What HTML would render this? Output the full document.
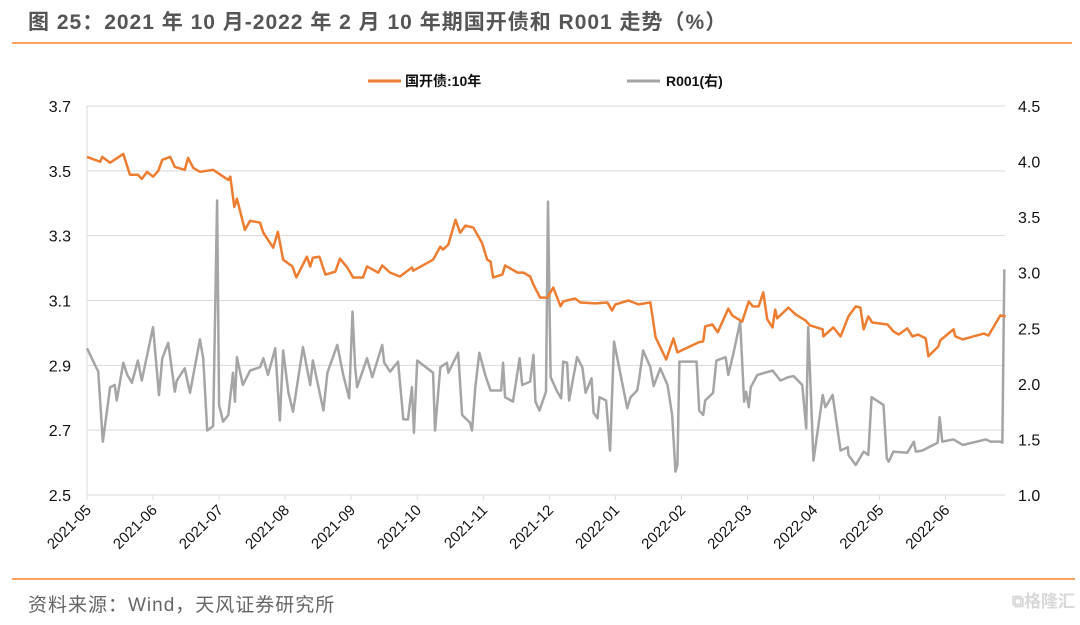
<!DOCTYPE html>
<html><head><meta charset="utf-8"><style>
body{margin:0;background:#fff;width:1080px;height:620px;overflow:hidden;font-family:"Liberation Sans","Noto Sans CJK SC",sans-serif;}
</style></head><body>
<svg id="chart" width="1080" height="620" xmlns="http://www.w3.org/2000/svg">
<text x="28" y="29" font-size="21" letter-spacing="1" font-weight="bold" fill="#555" font-family="Liberation Sans, Noto Sans CJK SC, sans-serif">图 25：2021 年 10 月-2022 年 2 月 10 年期国开债和 R001 走势（%）</text>
<line x1="12" y1="43" x2="1072" y2="43" stroke="#f5a35e" stroke-width="2"/>
<line x1="12" y1="579" x2="1075" y2="579" stroke="#f5a35e" stroke-width="2"/>
<text x="28" y="611" font-size="19" letter-spacing="1" fill="#666" font-family="Liberation Sans, Noto Sans CJK SC, sans-serif">资料来源：Wind，天风证券研究所</text>
<text x="1075" y="607" font-size="17" fill="#d8d8d8" text-anchor="end" font-weight="bold" font-family="Liberation Sans, Noto Sans CJK SC, sans-serif">⧉格隆汇</text>
<g>
<line x1="368" y1="81" x2="401" y2="81" stroke="#ed7d31" stroke-width="3"/>
<text x="405" y="86" font-size="14" font-weight="bold" fill="#111" font-family="Liberation Sans, Noto Sans CJK SC, sans-serif">国开债:10年</text>
<line x1="627" y1="81" x2="660" y2="81" stroke="#a5a5a5" stroke-width="3"/>
<text x="666" y="86" font-size="14" font-weight="bold" fill="#111" font-family="Liberation Sans, Noto Sans CJK SC, sans-serif">R001(右)</text>
</g>
<g id="plot"></g>
</svg>
<script>
const monthLabels=["2021-05","2021-06","2021-07","2021-08","2021-09","2021-10","2021-11","2021-12","2022-01","2022-02","2022-03","2022-04","2022-05","2022-06"];
const leftTicks=[2.5,2.7,2.9,3.1,3.3,3.5,3.7];
const rightTicks=[1.0,1.5,2.0,2.5,3.0,3.5,4.0,4.5];
const cdbT=[0,.20,.23,.35,.55,.65,.77,.83,.91,1.0,1.08,1.14,1.26,1.33,1.48,1.53,1.61,1.71,1.91,2.02,2.14,2.17,2.23,2.27,2.39,2.47,2.62,2.67,2.82,2.89,2.97,3.11,3.17,3.33,3.38,3.42,3.52,3.61,3.76,3.83,3.94,4.03,4.18,4.24,4.33,4.41,4.47,4.59,4.74,4.92,4.94,5.24,5.35,5.39,5.47,5.58,5.65,5.73,5.85,5.98,6.06,6.11,6.15,6.29,6.33,6.52,6.61,6.71,6.76,6.86,6.97,7.06,7.17,7.21,7.39,7.47,7.70,7.88,7.95,8.0,8.20,8.35,8.53,8.61,8.77,8.88,8.94,9.26,9.33,9.36,9.47,9.55,9.71,9.77,9.92,10.02,10.08,10.17,10.24,10.30,10.38,10.42,10.45,10.62,10.73,10.88,10.95,11.14,11.15,11.30,11.41,11.53,11.64,11.71,11.76,11.83,11.89,12.12,12.21,12.29,12.42,12.50,12.58,12.70,12.74,12.89,12.92,13.12,13.15,13.26,13.42,13.58,13.65,13.83,13.91];
const cdbV=[3.543,3.528,3.543,3.525,3.552,3.488,3.488,3.475,3.497,3.482,3.500,3.534,3.543,3.512,3.503,3.540,3.509,3.497,3.503,3.488,3.472,3.482,3.389,3.414,3.318,3.346,3.340,3.309,3.263,3.312,3.226,3.205,3.171,3.235,3.205,3.232,3.235,3.180,3.189,3.229,3.202,3.171,3.171,3.205,3.195,3.186,3.208,3.186,3.174,3.202,3.192,3.226,3.266,3.257,3.272,3.349,3.309,3.331,3.325,3.278,3.226,3.220,3.171,3.180,3.208,3.186,3.186,3.174,3.149,3.109,3.109,3.140,3.082,3.097,3.106,3.094,3.091,3.094,3.069,3.088,3.100,3.088,3.094,2.986,2.918,2.983,2.940,2.971,2.974,3.020,3.026,3.002,3.075,3.054,3.035,3.097,3.082,3.082,3.125,3.042,3.017,3.072,3.045,3.078,3.057,3.038,3.023,3.011,2.989,3.017,2.989,3.051,3.082,3.078,3.011,3.051,3.032,3.026,3.005,2.995,3.014,2.989,2.995,2.983,2.928,2.958,2.977,3.011,2.989,2.980,2.989,2.998,2.992,3.054,3.051];
const r001T=[0,.17,.24,.35,.42,.45,.55,.61,.68,.77,.83,1.0,1.09,1.14,1.23,1.33,1.36,1.48,1.56,1.71,1.76,1.82,1.91,1.97,2.0,2.06,2.14,2.21,2.24,2.27,2.36,2.47,2.62,2.67,2.74,2.85,2.92,2.97,3.05,3.12,3.27,3.38,3.42,3.58,3.64,3.79,3.88,3.97,4.02,4.06,4.09,4.24,4.32,4.47,4.5,4.59,4.71,4.79,4.86,4.92,4.95,5.0,5.24,5.27,5.35,5.45,5.47,5.62,5.68,5.8,5.83,5.88,5.94,6.03,6.11,6.27,6.3,6.33,6.45,6.55,6.59,6.71,6.76,6.79,6.85,6.95,6.98,7.02,7.12,7.18,7.21,7.27,7.3,7.42,7.5,7.55,7.64,7.67,7.73,7.76,7.86,7.92,7.98,8.18,8.23,8.33,8.36,8.42,8.53,8.58,8.68,8.79,8.86,8.91,8.94,8.97,9.23,9.27,9.33,9.36,9.48,9.53,9.67,9.71,9.79,9.89,9.95,9.98,10.02,10.05,10.15,10.38,10.5,10.62,10.7,10.83,10.89,10.92,11.0,11.14,11.18,11.29,11.41,11.52,11.53,11.64,11.76,11.83,11.88,12.06,12.11,12.14,12.21,12.42,12.52,12.55,12.65,12.88,12.91,12.95,13.12,13.26,13.61,13.68,13.83,13.86,13.89];
const r001V=[2.32,2.11,1.48,1.97,1.99,1.85,2.19,2.08,2.01,2.21,2.03,2.51,1.90,2.23,2.37,1.93,2.03,2.14,1.92,2.40,2.23,1.58,1.62,3.65,1.81,1.66,1.72,2.10,1.84,2.24,1.99,2.12,2.15,2.23,2.08,2.32,1.67,2.30,1.92,1.75,2.33,1.99,2.21,1.76,2.10,2.35,2.08,1.87,2.65,2.15,1.97,2.23,2.06,2.35,2.19,2.11,2.20,1.68,1.68,1.97,1.56,2.21,2.10,1.58,2.15,2.19,2.10,2.28,1.72,1.65,1.58,1.97,2.28,2.08,1.94,1.94,2.19,1.88,1.84,2.23,1.99,2.02,2.26,1.84,1.76,1.93,3.64,2.06,1.93,1.87,2.20,2.19,1.85,2.24,2.15,1.92,2.05,1.74,1.69,1.88,1.85,1.40,2.38,1.78,1.88,1.94,2.04,2.30,2.15,1.98,2.14,1.99,1.72,1.21,1.27,2.20,2.20,1.76,1.72,1.85,1.92,2.21,2.24,2.08,2.28,2.56,1.84,1.93,1.79,1.97,2.08,2.12,2.03,2.06,2.07,1.99,1.60,2.51,1.31,1.90,1.79,1.90,1.40,1.43,1.36,1.27,1.39,1.36,1.88,1.81,1.33,1.30,1.39,1.38,1.48,1.39,1.40,1.47,1.70,1.48,1.50,1.45,1.50,1.48,1.48,1.47,3.03];

const NS='http://www.w3.org/2000/svg';
const X0=87,X1=1005,T1=13.9,Y0=495,Y1=106;
const xs=t=>X0+(X1-X0)*t/T1;
const yl=v=>Y0-(v-2.5)/(3.7-2.5)*(Y0-Y1);
const yr=v=>Y0-(v-1.0)/(4.5-1.0)*(Y0-Y1);
const plot=document.getElementById('plot');
function mk(tag,attrs){const e=document.createElementNS(NS,tag);for(const k in attrs)e.setAttribute(k,attrs[k]);plot.appendChild(e);return e;}
leftTicks.forEach(v=>{
  const g=mk('line',{x1:X0,x2:X1,y1:yl(v),y2:yl(v),stroke:'#d9d9d9','stroke-width':1});
  
  
  const t=mk('text',{x:71,y:yl(v)+6,'text-anchor':'end','font-size':16,fill:'#111'});
  t.textContent=v.toFixed(1);
  
  
});
rightTicks.forEach(v=>{
  const t=mk('text',{x:1018,y:yr(v)+6,'font-size':16,fill:'#111'});
  t.textContent=v.toFixed(1);
  
  
});
const ax=mk('line',{x1:X0,x2:X0,y1:Y1,y2:Y0+5,stroke:'#d9d9d9','stroke-width':1});


monthLabels.forEach((m,i)=>{
  const x=xs(i);
  const tk=mk('line',{x1:x,x2:x,y1:Y0,y2:Y0+5,stroke:'#d9d9d9'});
  
  
  const t=mk('text',{x:x+5,y:Y0+16,'text-anchor':'end','font-size':15,fill:'#111',transform:`rotate(-45 ${x+5} ${Y0+16})`});
  t.textContent=m;
  
  
});
const gp=mk('polyline',{points:r001T.map((t,i)=>xs(t)+','+yr(r001V[i])).join(' '),fill:'none',stroke:'#a5a5a5','stroke-width':2.5,'stroke-linejoin':'round'});


const op=mk('polyline',{points:cdbT.map((t,i)=>xs(t)+','+yl(cdbV[i])).join(' '),fill:'none',stroke:'#ed7d31','stroke-width':2.5,'stroke-linejoin':'round'});


</script>
</body></html>
